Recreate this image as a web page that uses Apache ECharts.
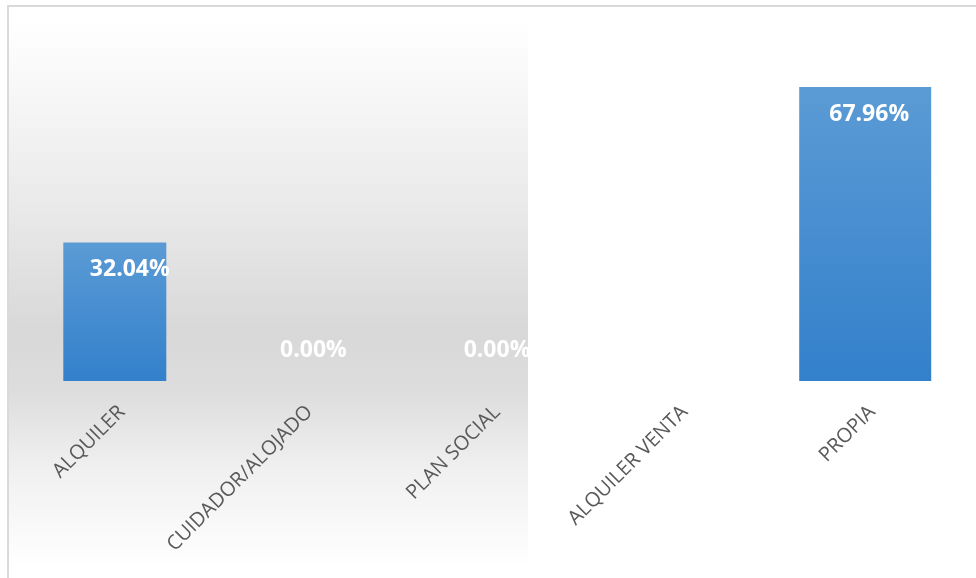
<!DOCTYPE html>
<html>
<head>
<meta charset="utf-8">
<script src="https://cdn.jsdelivr.net/npm/echarts@6/dist/echarts.min.js"></script>
<style>
  html, body { margin: 0; padding: 0; background: #ffffff; }
  #chart { width: 976px; height: 578px; }
</style>
</head>
<body>
<div id="chart"></div>
<script>
// Tipo de vivienda: porcentaje por categoría
const categories = ['ALQUILER', 'CUIDADOR/ALOJADO', 'PLAN SOCIAL', 'ALQUILER VENTA', 'PROPIA'];
const values = [32.04, 0.00, 0.00, 0.00, 67.96];

// Anchura de barra según la categoría (ajuste de diseño)
const layout = {
  widths: [103, 118, 118, 118, 132],
  labelShift: [15, 11, 7, 5, 4]
};

const chart = echarts.init(document.getElementById('chart'), null, { renderer: 'canvas' });

const barFill = new echarts.graphic.LinearGradient(0, 0, 0, 1, [
  { offset: 0, color: '#5b9bd5' },
  { offset: 1, color: '#3380cb' }
]);

// Una serie (y un eje propio) por anchura, para que cada barra quede centrada
const widthGroups = [...new Set(layout.widths)];

const xAxes = widthGroups.map(function (w, k) {
  return {
    type: 'category',
    data: categories,
    show: k === 0,
    axisLine: { show: false },
    axisTick: { show: false },
    axisLabel: {
      rotate: 45,
      interval: 0,
      margin: 21,
      verticalAlign: 'top',
      color: '#595959',
      fontFamily: 'Open Sans',
      fontSize: 20
    }
  };
});

const series = widthGroups.map(function (w, k) {
  return {
    type: 'bar',
    xAxisIndex: k,
    barWidth: w,
    itemStyle: { color: barFill },
    label: {
      show: true,
      color: '#ffffff',
      fontFamily: 'Open Sans',
      fontWeight: 'bold',
      fontSize: 23,
      formatter: function (p) { return p.value.toFixed(2) + '%'; }
    },
    data: values.map(function (v, i) {
      if (layout.widths[i] !== w) return '-';
      const dx = layout.labelShift[i];
      if (v === 0) {
        return { value: v, label: { position: 'top', distance: 19, offset: [dx, 0] } };
      }
      return { value: v, label: { position: 'insideTop', distance: 16, offset: [dx, 0] } };
    })
  };
});

chart.setOption({
  animation: false,
  backgroundColor: '#ffffff',
  graphic: [
    {
      type: 'rect',
      z: -10,
      silent: true,
      shape: { x: 8, y: 16, width: 520, height: 552 },
      style: {
        fill: new echarts.graphic.LinearGradient(0, 0, 0, 1, [
          { offset: 0, color: '#ffffff' },
          { offset: 0.12, color: '#f8f8f8' },
          { offset: 0.35, color: '#e9e9e9' },
          { offset: 0.57, color: '#d8d8d8' },
          { offset: 0.68, color: '#dddddd' },
          { offset: 0.82, color: '#f0f0f0' },
          { offset: 1, color: '#ffffff' }
        ])
      }
    },
    {
      type: 'rect',
      z: 10,
      silent: true,
      shape: { x: 8, y: 6, width: 990, height: 590 },
      style: { fill: 'none', stroke: '#d9d9d9', lineWidth: 2 }
    }
  ],
  grid: { left: 21, right: 17, top: 35, bottom: 197 },
  xAxis: xAxes,
  yAxis: {
    type: 'value',
    min: 0,
    max: 80,
    show: false,
    splitLine: { show: false }
  },
  series: series
});
</script>
</body>
</html>
